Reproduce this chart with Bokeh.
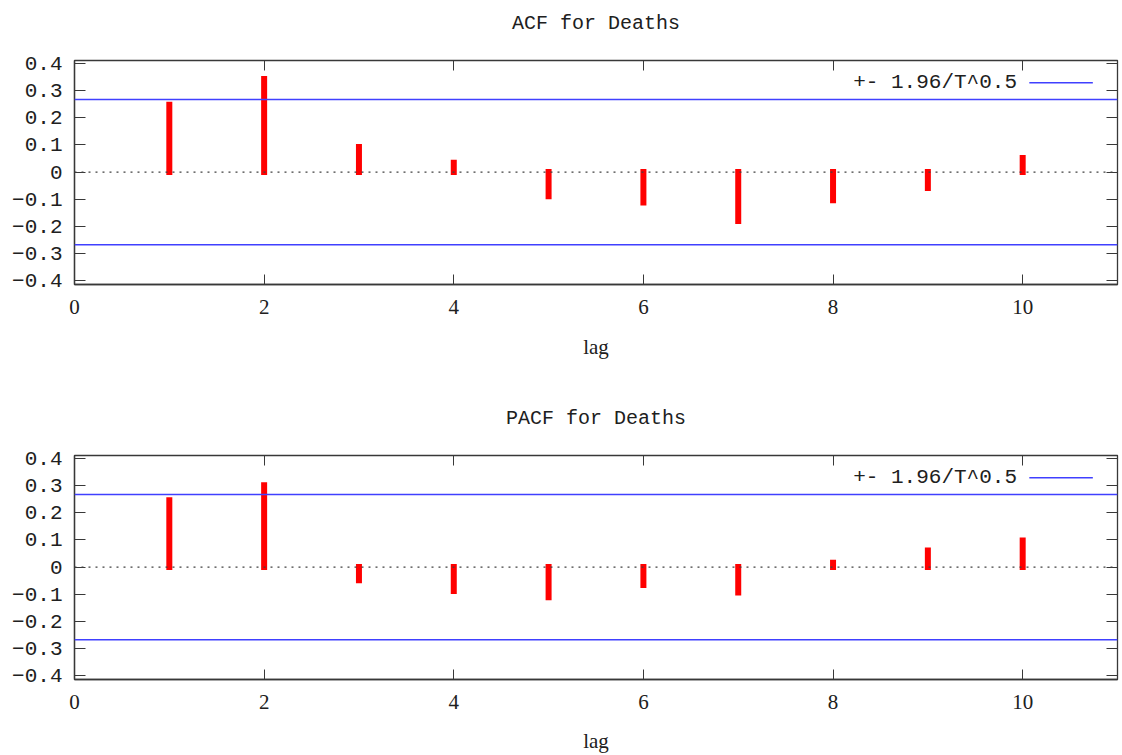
from bokeh.plotting import figure
from bokeh.models import (Range1d, FixedTicker, LinearAxis, Span, Label, ColumnDataSource)
from bokeh.layouts import column
from bokeh.embed import file_html
from bokeh.resources import INLINE

# ---- data ----
LAGS = [1, 2, 3, 4, 5, 6, 7, 8, 9, 10]
ACF = [0.247, 0.342, 0.092, 0.034, -0.089, -0.112, -0.180, -0.103, -0.058, 0.052]
PACF = [0.246, 0.301, -0.048, -0.088, -0.111, -0.066, -0.093, 0.016, 0.061, 0.098]
CONF = 0.2667  # 1.96 / sqrt(T)
X_TICKS = [0, 2, 4, 6, 8, 10]
Y_TICKS = [-0.4, -0.3, -0.2, -0.1, 0, 0.1, 0.2, 0.3, 0.4]
TITLES = ["ACF for Deaths", "PACF for Deaths"]
LEGEND_TEXT = "+- 1.96/T^0.5"
X_LABEL = "lag"

X_MIN, X_MAX = 0, 11
Y_MIN, Y_MAX = -0.413, 0.41

MONO = "Liberation Mono"
SERIF = "Liberation Serif"
TXT = "#202020"
FRAME = "#383838"
BLUE = "#4040ff"


def make_panel(title, values, height, border_top, border_bottom, label_standoff):
    p = figure(width=1122, height=height, output_backend="svg", toolbar_location=None,
               x_range=Range1d(X_MIN, X_MAX), y_range=Range1d(Y_MIN, Y_MAX),
               min_border_left=74, min_border_right=5,
               min_border_top=border_top, min_border_bottom=border_bottom,
               x_axis_label=X_LABEL)
    p.grid.visible = False
    p.outline_line_color = FRAME
    p.outline_line_width = 1.3
    p.background_fill_color = "white"
    p.border_fill_color = "white"

    # bottom x axis
    xa = p.xaxis[0]
    xa.ticker = FixedTicker(ticks=X_TICKS)
    xa.major_tick_in = 10
    xa.major_tick_out = 0
    xa.minor_tick_in = 0
    xa.minor_tick_out = 0
    xa.axis_line_color = FRAME
    xa.axis_line_width = 1.3
    xa.major_tick_line_color = FRAME
    xa.major_label_text_font = SERIF
    xa.major_label_text_font_size = "21px"
    xa.major_label_text_color = TXT
    xa.major_label_standoff = 15
    xa.axis_label_text_font = SERIF
    xa.axis_label_text_font_size = "21px"
    xa.axis_label_text_font_style = "normal"
    xa.axis_label_text_color = TXT
    xa.axis_label_standoff = label_standoff

    # left y axis
    ya = p.yaxis[0]
    ya.ticker = FixedTicker(ticks=Y_TICKS)
    ya.major_label_overrides = {0: "0"}
    ya.major_tick_in = 11
    ya.major_tick_out = 0
    ya.minor_tick_in = 0
    ya.minor_tick_out = 0
    ya.axis_line_color = FRAME
    ya.axis_line_width = 1.3
    ya.major_tick_line_color = FRAME
    ya.major_label_text_font = MONO
    ya.major_label_text_font_size = "21px"
    ya.major_label_text_color = TXT
    ya.major_label_standoff = 12

    # mirrored ticks on top (carrying the panel title) and on the right
    top = LinearAxis(ticker=FixedTicker(ticks=X_TICKS), major_tick_in=10, major_tick_out=0,
                     minor_tick_in=0, minor_tick_out=0,
                     major_label_overrides={t: "" for t in X_TICKS},
                     major_label_standoff=0, axis_line_color=FRAME,
                     major_tick_line_color=FRAME,
                     axis_label=title, axis_label_standoff=26,
                     axis_label_text_font=MONO, axis_label_text_font_size="20px",
                     axis_label_text_font_style="normal", axis_label_text_color=TXT)
    right = LinearAxis(ticker=FixedTicker(ticks=Y_TICKS), major_tick_in=11, major_tick_out=0,
                       minor_tick_in=0, minor_tick_out=0,
                       major_label_overrides={t: "" for t in Y_TICKS},
                       major_label_standoff=0, axis_line_color=FRAME,
                       major_tick_line_color=FRAME)
    p.add_layout(top, "above")
    p.add_layout(right, "right")

    # zero line and confidence bands
    p.add_layout(Span(location=0, dimension="width", line_color="#404040",
                      line_dash="2 5", line_width=1.3))
    for c in (CONF, -CONF):
        p.add_layout(Span(location=c, dimension="width", line_color=BLUE, line_width=1.4))

    # correlation spikes
    src = ColumnDataSource(dict(x=LAGS, y0=[0] * len(LAGS), y1=values))
    p.segment(x0="x", y0="y0", x1="x", y1="y1", source=src, line_color="#ff0000",
              line_width=6, line_cap="square")

    # gnuplot-style key (text then sample line)
    key_y = 0.328
    p.add_layout(Label(x=X_MAX - 1.06, y=key_y, text=LEGEND_TEXT, text_align="right",
                       text_baseline="middle", text_font=MONO, text_font_size="21px",
                       text_color=TXT))
    p.line(x=[X_MAX - 0.93, X_MAX - 0.26], y=[key_y, key_y], line_color=BLUE,
           line_width=1.4)
    return p


p1 = make_panel(TITLES[0], ACF, 395, 60, 111, 18)
p2 = make_panel(TITLES[1], PACF, 360, 60, 76, 17)
layout = column(p1, p2, spacing=0)

open("out.html", "w").write(file_html(layout, INLINE))
